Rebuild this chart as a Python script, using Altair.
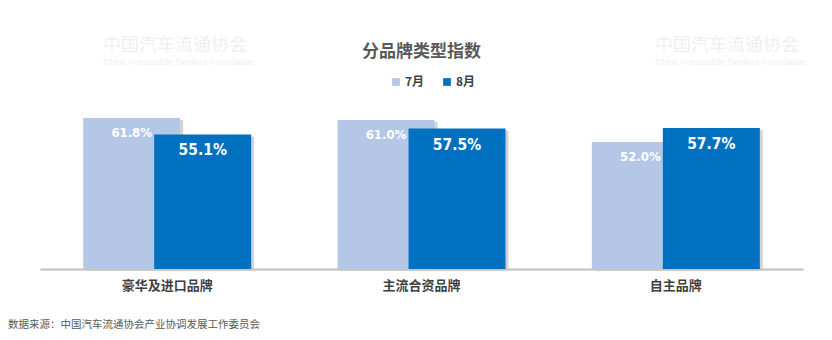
import altair as alt
import pandas as pd

categories = ["豪华及进口品牌", "主流合资品牌", "自主品牌"]
months = ["7月", "8月"]
jul_values = [61.8, 61.0, 52.0]
aug_values = [55.1, 57.5, 57.7]
colors = ["#B4C7E7", "#0070C0"]

rows = []
for c, v in zip(categories, jul_values):
    rows.append({"cat": c, "month": "7月", "value": v, "label": f"{v:.1f}%"})
for c, v in zip(categories, aug_values):
    rows.append({"cat": c, "month": "8月", "value": v, "label": f"{v:.1f}%"})
df = pd.DataFrame(rows)
jul = df[df.month == "7月"]
aug = df[df.month == "8月"]

BAR_W = 97
OFF = 35.5
NUM_FONT = "DejaVu Sans Condensed"

x = alt.X("cat:N", sort=categories, title=None,
          scale=alt.Scale(paddingInner=0.34, paddingOuter=0.17),
          axis=alt.Axis(labelAngle=0, labelFont="Noto Sans CJK SC", labelFontSize=13,
                        labelFontWeight="bold", labelColor="#404040", labelPadding=10,
                        ticks=False, domainColor="#BFBFBF", domainWidth=2))
y = alt.Y("value:Q", scale=alt.Scale(domain=[0, 70]), axis=None)
color = alt.Color("month:N", scale=alt.Scale(domain=months, range=colors),
                  legend=alt.Legend(title=None, orient="none", direction="horizontal",
                                    legendX=350, legendY=-22, symbolType="square",
                                    symbolSize=60, symbolStrokeWidth=0,
                                    labelFont="Noto Sans CJK SC", labelFontSize=12,
                                    labelFontWeight="bold", labelColor="#404040",
                                    columnPadding=16, labelOffset=3))

def shadow(d, off):
    return alt.Chart(d).mark_bar(width=BAR_W, xOffset=off + 3, yOffset=2,
                                 color="#C8C8C8", opacity=0.8).encode(x=x, y=y)

def bars(d, off):
    return alt.Chart(d).mark_bar(width=BAR_W, xOffset=off).encode(x=x, y=y, color=color)

def labels(d, off, size, dy):
    return alt.Chart(d).mark_text(xOffset=off, dy=dy, color="white", font=NUM_FONT,
                                  fontWeight="bold", fontSize=size, baseline="middle").encode(
        x=x, y=y, text="label:N")

one = alt.Data(values=[{}])
wm_pos = [(63, -52), (615, -52)]
wm_layers = []
for wx, wy in wm_pos:
    wm_layers.append(alt.Chart(one).mark_text(text="中国汽车流通协会", font="Noto Sans CJK SC",
                                              fontSize=18, color="#EFEFEF", align="left",
                                              baseline="middle").encode(
        x=alt.value(wx), y=alt.value(wy)))
    wm_layers.append(alt.Chart(one).mark_text(text="China Automobile Dealers Association",
                                              font="Liberation Sans", fontSize=9,
                                              color="#EFEFEF", align="left",
                                              baseline="middle").encode(
        x=alt.value(wx), y=alt.value(wy + 16)))

title = alt.Chart(one).mark_text(text="分品牌类型指数", font="Noto Sans CJK SC", fontSize=17,
                                 fontWeight="bold", color="#595959", align="center",
                                 baseline="middle").encode(
    x=alt.value(381.5), y=alt.value(-46))

footer = alt.Chart(one).mark_text(text="数据来源：中国汽车流通协会产业协调发展工作委员会",
                                  font="Noto Sans CJK SC", fontSize=10.5, color="#595959",
                                  align="left", baseline="middle").encode(
    x=alt.value(-32), y=alt.value(227))

chart = alt.layer(
    *wm_layers,
    shadow(jul, -OFF), bars(jul, -OFF),
    shadow(aug, OFF), bars(aug, OFF),
    labels(jul, -OFF, 13, 15), labels(aug, OFF, 15.5, 16),
    title, footer,
).properties(
    width=763, height=171,
    padding={"left": 40, "top": 98, "right": 29, "bottom": 71},
    autosize=alt.AutoSizeParams(type="none"),
).configure(background="white").configure_view(stroke=None)

chart.save("out.html", embed_options={"renderer": "svg", "actions": False})
